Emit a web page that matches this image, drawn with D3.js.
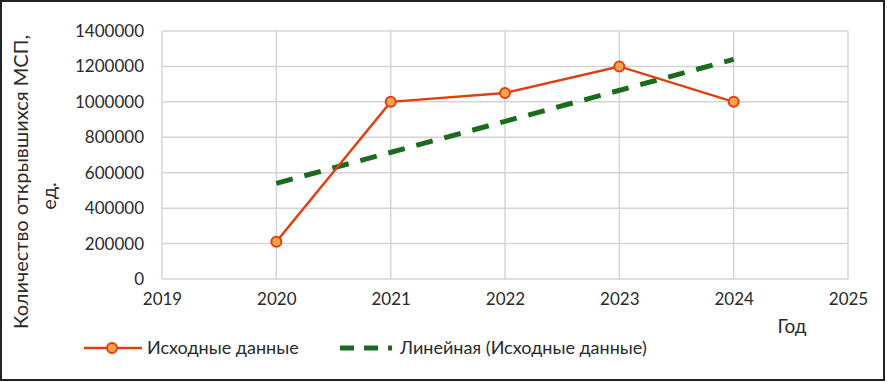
<!DOCTYPE html>
<html><head><meta charset="utf-8">
<script src="https://cdn.jsdelivr.net/npm/d3@7"></script>
<style>body{margin:0;background:#fff}svg{display:block}text{font-family:Lato,"Open Sans",sans-serif;fill:#2a2a2a}</style>
</head><body>
<script>
const years = [2020, 2021, 2022, 2023, 2024];
const values = [210000, 1000000, 1050000, 1200000, 1000000];
const trendYears = [2020, 2024];
const trendValues = [540000, 1240000];
const xTicks = [2019, 2020, 2021, 2022, 2023, 2024, 2025];
const yTicks = [0, 200000, 400000, 600000, 800000, 1000000, 1200000, 1400000];
const seriesName = "Исходные данные";
const trendName = "Линейная (Исходные данные)";
const xTitle = "Год";
const yTitle1 = "Количество открывшихся МСП,";
const yTitle2 = "ед.";

const W = 887, H = 382;
const svg = d3.select("body").append("svg").attr("width", W).attr("height", H);
svg.append("rect").attr("x",1).attr("y",1).attr("width",W-4).attr("height",H-3).attr("fill","#fff").attr("stroke","#222").attr("stroke-width",2);

const x = d3.scaleLinear().domain([2019, 2025]).range([162, 848]);
const y = d3.scaleLinear().domain([0, 1400000]).range([279, 31]);

const grid = svg.append("g");
grid.selectAll(".hg").data(yTicks).join("line")
  .attr("x1", 162).attr("x2", 848).attr("y1", d=>y(d)).attr("y2", d=>y(d))
  .attr("stroke", "#d4d4d4").attr("stroke-width", 1.5);
grid.selectAll(".vg").data(xTicks).join("line")
  .attr("y1", 31).attr("y2", 279).attr("x1", d=>x(d)).attr("x2", d=>x(d))
  .attr("stroke", "#d4d4d4").attr("stroke-width", 1.5);

const yAxis = svg.append("g").attr("transform","translate(162,0)")
  .call(d3.axisLeft(y).tickValues(yTicks).tickFormat(d3.format("d")).tickSize(0).tickPadding(18));
yAxis.select(".domain").remove();
yAxis.selectAll("text").attr("font-size", 17).attr("fill","#2a2a2a").style("font-family","Lato");

const xAxis = svg.append("g").attr("transform","translate(0,279)")
  .call(d3.axisBottom(x).tickValues(xTicks).tickFormat(d3.format("d")).tickSize(0).tickPadding(14));
xAxis.select(".domain").remove();
xAxis.selectAll("text").attr("font-size", 17).attr("fill","#2a2a2a").style("font-family","Lato");

svg.append("text").attr("x", 792).attr("y", 333).attr("text-anchor","middle").attr("font-size",19).text(xTitle);
svg.append("text").attr("transform","translate(28,182) rotate(-90)").attr("text-anchor","middle").attr("font-size",20).text(yTitle1);
svg.append("text").attr("transform","translate(56,196) rotate(-90)").attr("text-anchor","middle").attr("font-size",20).text(yTitle2);

const trend = trendYears.map((d,i)=>[d, trendValues[i]]);
svg.append("path").datum(trend)
  .attr("d", d3.line().x(d=>x(d[0])).y(d=>y(d[1])))
  .attr("fill","none").attr("stroke","#1b6b1f").attr("stroke-width",5).attr("stroke-dasharray","17,12");

const data = years.map((d,i)=>[d, values[i]]);
svg.append("path").datum(data)
  .attr("d", d3.line().x(d=>x(d[0])).y(d=>y(d[1])))
  .attr("fill","none").attr("stroke","#e0400f").attr("stroke-width",2.5);
svg.selectAll(".pt").data(data).join("circle")
  .attr("cx", d=>x(d[0])).attr("cy", d=>y(d[1])).attr("r", 5)
  .attr("fill","#f7a150").attr("stroke","#e0400f").attr("stroke-width",2);

// legend
const ly = 348;
svg.append("line").attr("x1",84).attr("x2",142).attr("y1",ly).attr("y2",ly).attr("stroke","#e0400f").attr("stroke-width",2.5);
svg.append("circle").attr("cx",112).attr("cy",ly).attr("r",5).attr("fill","#f7a150").attr("stroke","#e0400f").attr("stroke-width",2);
svg.append("text").attr("x",147).attr("y",ly+6).attr("font-size",18).text(seriesName);
svg.append("line").attr("x1",340).attr("x2",392).attr("y1",ly).attr("y2",ly).attr("stroke","#1b6b1f").attr("stroke-width",5).attr("stroke-dasharray","14,10");
svg.append("text").attr("x",400).attr("y",ly+6).attr("font-size",18).text(trendName);
</script>
</body></html>
